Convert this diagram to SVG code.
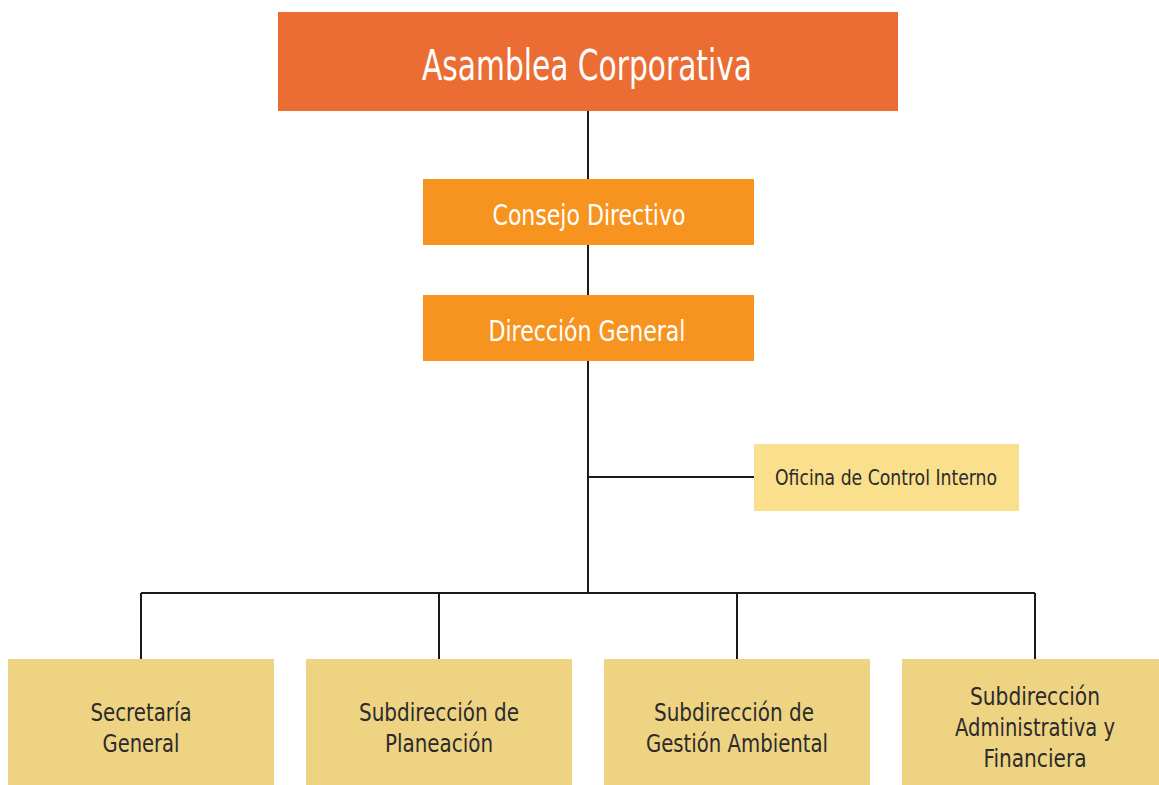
<svg xmlns="http://www.w3.org/2000/svg" width="1159" height="785" viewBox="0 0 1159 785">
<style>
.t{font-family:"DejaVu Sans Condensed","DejaVu Sans","Liberation Sans",sans-serif;text-anchor:middle}
.w{fill:#ffffff}
.d{fill:#2b2b2b}
.ln{stroke:#1a1a1a;stroke-width:2;fill:none}
</style>
<rect width="1159" height="785" fill="#ffffff"/>
<g id="connectors">
<path class="ln" d="M588 111V593M588 477H754M141 593H1035M141 593V659M439 593V659M737 593V659M1035 593V659"/>
</g>
<g id="asamblea">
<rect x="278" y="12" width="620" height="99" fill="#EB6D33"/>
<text class="t w" x="587" y="80" font-size="42" textLength="330" lengthAdjust="spacingAndGlyphs">Asamblea Corporativa</text>
</g>
<g id="consejo">
<rect x="423" y="179" width="331" height="66" fill="#F7941F"/>
<text class="t w" x="589" y="225" font-size="28" textLength="193" lengthAdjust="spacingAndGlyphs">Consejo Directivo</text>
</g>
<g id="direccion">
<rect x="423" y="295" width="331" height="66" fill="#F7941F"/>
<text class="t w" x="587" y="341" font-size="28" textLength="197" lengthAdjust="spacingAndGlyphs">Dirección General</text>
</g>
<g id="oficina">
<rect x="754" y="444" width="265" height="67" fill="#FADF8C"/>
<text class="t d" x="886" y="485" font-size="21" textLength="222" lengthAdjust="spacingAndGlyphs">Oficina de Control Interno</text>
</g>
<g id="secretaria">
<rect x="8" y="659" width="266" height="126" fill="#EED383"/>
<text class="t d" x="141" y="721" font-size="24" textLength="101" lengthAdjust="spacingAndGlyphs">Secretaría</text>
<text class="t d" x="141" y="752" font-size="24" textLength="77" lengthAdjust="spacingAndGlyphs">General</text>
</g>
<g id="planeacion">
<rect x="306" y="659" width="266" height="126" fill="#EED383"/>
<text class="t d" x="439" y="721" font-size="24" textLength="160" lengthAdjust="spacingAndGlyphs">Subdirección de</text>
<text class="t d" x="439" y="752" font-size="24" textLength="108" lengthAdjust="spacingAndGlyphs">Planeación</text>
</g>
<g id="gestion">
<rect x="604" y="659" width="266" height="126" fill="#EED383"/>
<text class="t d" x="734" y="721" font-size="24" textLength="160" lengthAdjust="spacingAndGlyphs">Subdirección de</text>
<text class="t d" x="737" y="752" font-size="24" textLength="182" lengthAdjust="spacingAndGlyphs">Gestión Ambiental</text>
</g>
<g id="administrativa">
<rect x="902" y="659" width="257" height="126" fill="#EED383"/>
<text class="t d" x="1035" y="705" font-size="24" textLength="130" lengthAdjust="spacingAndGlyphs">Subdirección</text>
<text class="t d" x="1035" y="736" font-size="24" textLength="160" lengthAdjust="spacingAndGlyphs">Administrativa y</text>
<text class="t d" x="1035" y="767" font-size="24" textLength="103" lengthAdjust="spacingAndGlyphs">Financiera</text>
</g>
</svg>
